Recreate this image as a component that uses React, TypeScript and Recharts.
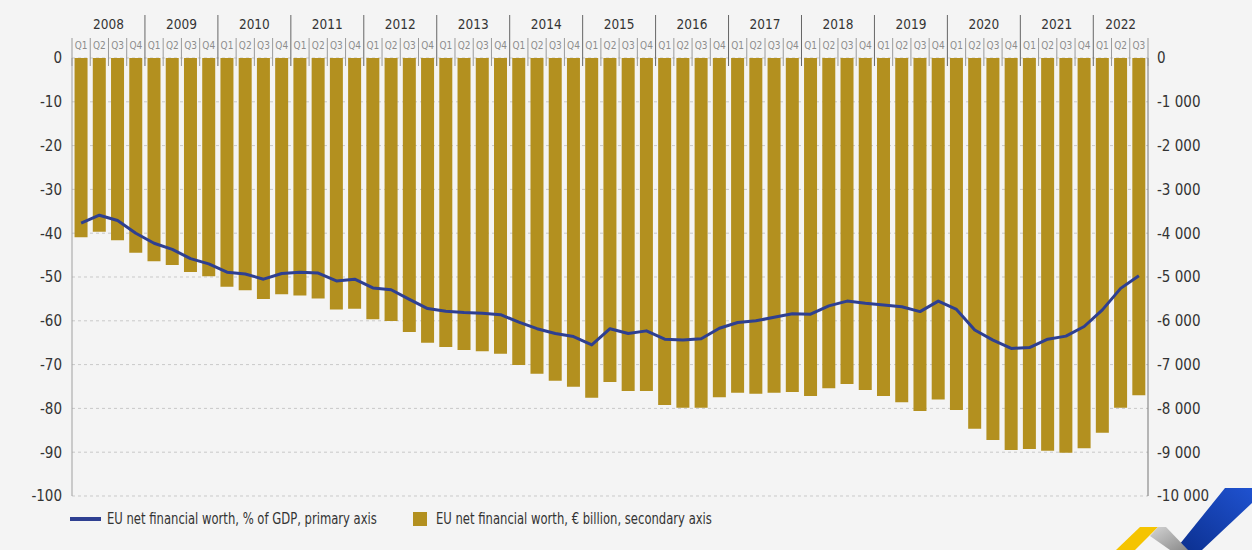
import { Bar, CartesianGrid, ComposedChart, Line, XAxis, YAxis } from 'recharts';

const years = ['2008', '2009', '2010', '2011', '2012', '2013', '2014', '2015', '2016', '2017', '2018', '2019', '2020', '2021', '2022'];
const quarterNames = ['Q1', 'Q2', 'Q3', 'Q4'];
const quartersInLastYear = 3;

// EU net financial worth, % of GDP (primary axis)
const pctOfGdp = [
  -37.7, -35.9, -37.1, -40.0, -42.3, -43.7, -45.8, -47.0, -48.9, -49.3, -50.5, -49.2,
  -48.9, -49.1, -50.9, -50.5, -52.5, -52.9, -55.1, -57.2, -57.8, -58.1, -58.3, -58.6,
  -60.3, -61.8, -62.9, -63.6, -65.5, -61.8, -62.9, -62.3, -64.2, -64.4, -64.1, -61.7,
  -60.4, -60.0, -59.2, -58.4, -58.5, -56.6, -55.5, -56.0, -56.4, -56.8, -57.9, -55.5,
  -57.4, -62.1, -64.4, -66.3, -66.1, -64.2, -63.5, -61.3, -57.5, -52.6, -49.7,
];

// EU net financial worth, EUR billion (secondary axis)
const billionEur = [
  -4090, -3965, -4160, -4445, -4640, -4725, -4885, -4985, -5220, -5305, -5500, -5395,
  -5425, -5490, -5740, -5725, -5965, -6005, -6255, -6500, -6600, -6665, -6695, -6750,
  -7010, -7210, -7370, -7505, -7755, -7400, -7600, -7600, -7920, -7985, -7985, -7745,
  -7640, -7665, -7640, -7625, -7715, -7540, -7445, -7580, -7715, -7860, -8060, -7795,
  -8035, -8465, -8720, -8950, -8925, -8965, -9010, -8910, -8555, -7985, -7700,
];

const pctTicks = [0, -10, -20, -30, -40, -50, -60, -70, -80, -90, -100];
const bnTicks = [0, -1000, -2000, -3000, -4000, -5000, -6000, -7000, -8000, -9000, -10000];

const quartersOf = (i: number) => (i === years.length - 1 ? quartersInLastYear : 4);

const data = years.flatMap((year, yi) =>
  quarterNames.slice(0, quartersOf(yi)).map((quarter) => ({ period: `${year} ${quarter}`, year, quarter })),
).map((row, i) => ({ ...row, pct: pctOfGdp[i], bn: billionEur[i] }));

const W = 1252;
const H = 550;
const PLOT_LEFT = 72;
const PLOT_RIGHT = 1148;
const PLOT_TOP = 58;
const PLOT_BOTTOM = 496;
const BAND = (PLOT_RIGHT - PLOT_LEFT) / data.length;

const FONT = '"DejaVu Sans Condensed", "Liberation Sans Narrow", "Liberation Sans", sans-serif';
const GOLD = '#b3901f';
const BLUE = '#2e3f91';

const fmtBn = (v: number) => {
  const s = String(Math.abs(v)).replace(/\B(?=(\d{3})+(?!\d))/g, ' ');
  return v < 0 ? `-${s}` : s;
};

function PeriodTick(props: any) {
  const { x, payload } = props;
  const index = data.findIndex((d) => d.period === payload.value);
  if (index < 0) return null;
  const row = data[index];
  const left = x - BAND / 2;
  const isYearStart = row.quarter === 'Q1';
  const yi = years.indexOf(row.year);
  return (
    <g>
      <line
        x1={left}
        x2={left}
        y1={isYearStart && index > 0 ? 15 : 38}
        y2={66}
        stroke={isYearStart && index > 0 ? '#666' : '#9a9a9a'}
        strokeWidth={1}
      />
      <text x={x} y={45} textAnchor="middle" dominantBaseline="central" fontSize={10} fill="#8c8c8c" fontFamily={FONT}>
        {row.quarter}
      </text>
      {isYearStart && (
        <text
          x={left + (quartersOf(yi) * BAND) / 2}
          y={24}
          textAnchor="middle"
          dominantBaseline="central"
          fontSize={13.5}
          fill="#333"
          fontFamily={FONT}
        >
          {row.year}
        </text>
      )}
      {index === data.length - 1 && (
        <line x1={x + BAND / 2} x2={x + BAND / 2} y1={38} y2={66} stroke="#9a9a9a" strokeWidth={1} />
      )}
    </g>
  );
}

const legendText = {
  position: 'absolute' as const,
  top: 0,
  fontSize: 15,
  color: '#333',
  whiteSpace: 'nowrap' as const,
  transform: 'scaleX(0.86)',
  transformOrigin: 'left center',
  lineHeight: '20px',
};

export default function App() {
  return (
    <div style={{ position: 'absolute', left: 0, top: 0, width: W, height: H, background: '#f4f4f4', fontFamily: FONT }}>
      <ComposedChart
        width={W}
        height={H}
        data={data}
        margin={{ top: 0, right: 0, left: 0, bottom: H - PLOT_BOTTOM }}
        barCategoryGap="14%"
      >
        <CartesianGrid yAxisId="pct" vertical={false} stroke="#c9c9c9" strokeDasharray="3 3" />
        <XAxis
          dataKey="period"
          orientation="top"
          height={PLOT_TOP}
          interval={0}
          tick={<PeriodTick />}
          tickLine={false}
          axisLine={false}
        />
        <YAxis
          yAxisId="pct"
          orientation="left"
          width={PLOT_LEFT}
          domain={[-100, 0]}
          ticks={pctTicks}
          tickLine={false}
          tickSize={6}
          tickMargin={4}
          axisLine={{ stroke: '#a0a0a0' }}
          tick={{ fontSize: 15, fill: '#333', fontFamily: FONT }}
        />
        <YAxis
          yAxisId="bn"
          orientation="right"
          width={W - PLOT_RIGHT}
          domain={[-10000, 0]}
          ticks={bnTicks}
          tickFormatter={fmtBn}
          tickLine={false}
          tickSize={6}
          tickMargin={3}
          axisLine={{ stroke: '#777' }}
          tick={{ fontSize: 15, fill: '#333', fontFamily: FONT }}
        />
        <Bar yAxisId="bn" dataKey="bn" fill={GOLD} isAnimationActive={false} />
        <Line
          yAxisId="pct"
          dataKey="pct"
          type="linear"
          stroke={BLUE}
          strokeWidth={3}
          dot={false}
          strokeLinejoin="round"
          isAnimationActive={false}
        />
      </ComposedChart>

      <div style={{ position: 'absolute', left: 0, top: 509, width: W, height: 20 }}>
        <span style={{ position: 'absolute', left: 70, top: 8, width: 31, height: 4, background: BLUE }} />
        <span style={{ ...legendText, left: 107 }}>EU net financial worth, % of GDP, primary axis</span>
        <span style={{ position: 'absolute', left: 413, top: 3, width: 14, height: 14, background: GOLD }} />
        <span style={{ ...legendText, left: 436 }}>EU net financial worth, € billion, secondary axis</span>
      </div>

      <svg width={W} height={H} style={{ position: 'absolute', left: 0, top: 0, pointerEvents: 'none' }}>
        <defs>
          <linearGradient id="logoBlue" x1="0" y1="1" x2="1" y2="0">
            <stop offset="0" stopColor="#0b2f8e" />
            <stop offset="1" stopColor="#1f52d0" />
          </linearGradient>
          <linearGradient id="logoGray" x1="0" y1="0" x2="1" y2="1">
            <stop offset="0" stopColor="#d4d4d4" />
            <stop offset="1" stopColor="#8a8a8a" />
          </linearGradient>
        </defs>
        <polygon points="1225,488 1252,488 1252,503 1202,550 1175,550" fill="url(#logoBlue)" />
        <polygon points="1140,527 1158,527 1135,550 1116,550" fill="#f5c400" />
        <polygon points="1158,527 1166,527 1188,550 1170,550 1150,536" fill="url(#logoGray)" />
      </svg>
    </div>
  );
}
